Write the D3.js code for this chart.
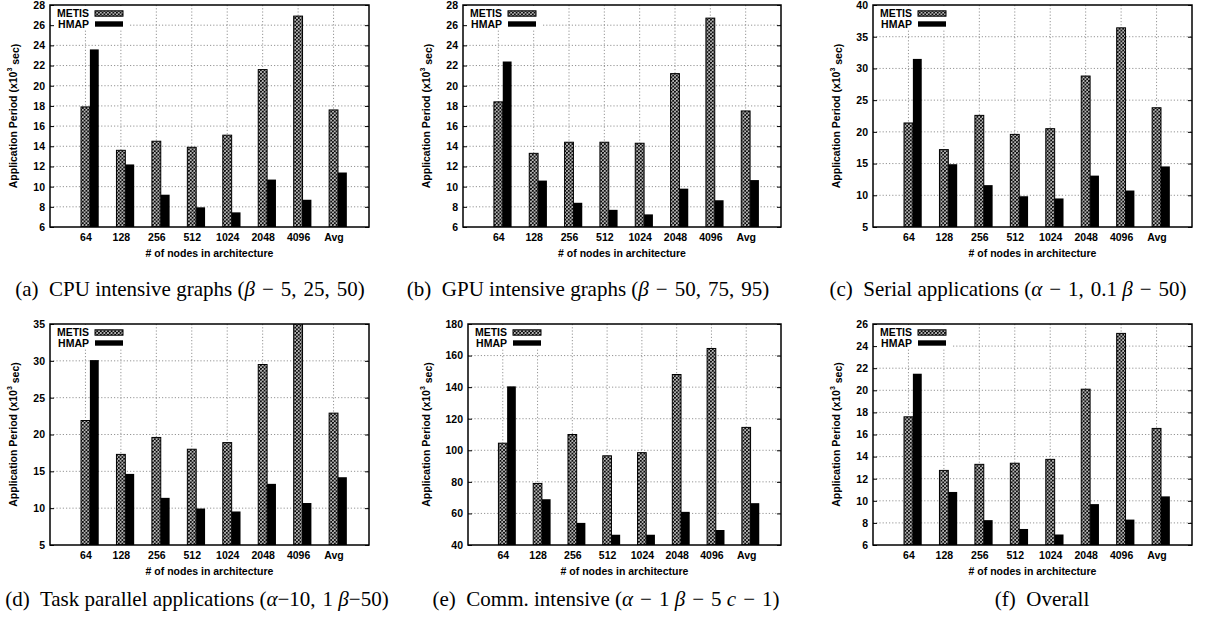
<!DOCTYPE html>
<html>
<head>
<meta charset="utf-8">
<script src="https://cdn.jsdelivr.net/npm/d3@7"></script>
<style>
  body { margin: 0; background: #fff; }
  svg { display: block; }
  .lab { font-family: "Liberation Sans", Arial, Helvetica, sans-serif; font-weight: bold; font-size: 10.5px; fill: #000; }
  .cap { font-family: "Liberation Serif", "Times New Roman", serif; font-size: 21px; fill: #000; }
</style>
</head>
<body>
<script>
// categorias del eje x
const categories = ["64", "128", "256", "512", "1024", "2048", "4096", "Avg"];
const seriesNames = ["METIS", "HMAP"];

// (a) CPU intensive
const cpuMetis = [17.9, 13.6, 14.5, 13.9, 15.1, 21.6, 26.9, 17.6];
const cpuHmap  = [23.6, 12.2, 9.2, 7.95, 7.45, 10.7, 8.7, 11.4];
const cpuTicks = [6, 8, 10, 12, 14, 16, 18, 20, 22, 24, 26, 28];

// (b) GPU intensive
const gpuMetis = [18.4, 13.3, 14.4, 14.4, 14.3, 21.2, 26.7, 17.5];
const gpuHmap  = [22.4, 10.6, 8.4, 7.7, 7.25, 9.8, 8.65, 10.65];
const gpuTicks = [6, 8, 10, 12, 14, 16, 18, 20, 22, 24, 26, 28];

// (c) Serial
const serMetis = [21.4, 17.2, 22.6, 19.6, 20.5, 28.8, 36.4, 23.8];
const serHmap  = [31.5, 14.9, 11.6, 9.85, 9.5, 13.1, 10.75, 14.55];
const serTicks = [5, 10, 15, 20, 25, 30, 35, 40];

// (d) Task parallel
const tpMetis = [21.9, 17.3, 19.6, 18.0, 18.9, 29.5, 36.0, 22.9];
const tpHmap  = [30.1, 14.65, 11.4, 9.95, 9.55, 13.3, 10.7, 14.2];
const tpTicks = [5, 10, 15, 20, 25, 30, 35];

// (e) Comm. intensive
const comMetis = [104.5, 79, 110, 96.5, 98.5, 148, 164.5, 114.5];
const comHmap  = [140.5, 69, 54, 46.5, 46.5, 61, 49.5, 66.5];
const comTicks = [40, 60, 80, 100, 120, 140, 160, 180];

// (f) Overall
const allMetis = [17.6, 12.75, 13.3, 13.4, 13.75, 20.1, 25.15, 16.55];
const allHmap  = [21.5, 10.8, 8.25, 7.45, 6.95, 9.7, 8.3, 10.4];
const allTicks = [6, 8, 10, 12, 14, 16, 18, 20, 22, 24, 26];

// captions: [texto, cursiva]  (espacios de la parte matematica)
const S = "\u2004";
const captions = [
  [["(a)  CPU intensive graphs (", false], ["β", true], [S + "−" + S + "5," + S + "25," + S + "50)", false]],
  [["(b)  GPU intensive graphs (", false], ["β", true], [S + "−" + S + "50," + S + "75," + S + "95)", false]],
  [["(c)  Serial applications (", false], ["α", true], [S + "−" + S + "1," + S + "0.1 ", false], ["β", true], [S + "−" + S + "50)", false]],
  [["(d)  Task parallel applications (", false], ["α", true], ["−10," + S + "1 ", false], ["β", true], ["−50)", false]],
  [["(e)  Comm. intensive (", false], ["α", true], [S + "−" + S + "1 ", false], ["β", true], [S + "−" + S + "5 ", false], ["c", true], [S + "−" + S + "1)", false]],
  [["(f)  Overall", false]]
];

const W = 1216, H = 619;

const svg = d3.select("body").append("svg")
  .attr("width", W)
  .attr("height", H);

// patron cuadriculado para METIS
const defs = svg.append("defs");
const P = 3.6;
const pat = defs.append("pattern")
  .attr("id", "hatch")
  .attr("patternUnits", "userSpaceOnUse")
  .attr("width", P)
  .attr("height", P);
pat.append("rect").attr("width", P).attr("height", P).attr("fill", "#fff");
pat.append("path")
  .attr("d", `M0,0 L${P},${P} M${P},0 L0,${P} M-1,${P - 1} L1,${P + 1} M${P - 1},-1 L${P + 1},1 M${P - 1},${P + 1} L${P + 1},${P - 1} M-1,1 L1,-1`)
  .attr("stroke", "#000")
  .attr("stroke-width", 1);

// posiciones de cada panel
const layout = [
  { left: 50,  right: 369,  top: 5,   bottom: 227, capX: 190,  capY: 296 },
  { left: 463, right: 781,  top: 5,   bottom: 227, capX: 588,  capY: 296 },
  { left: 873, right: 1192, top: 5,   bottom: 227, capX: 1008, capY: 296 },
  { left: 50,  right: 369,  top: 324, bottom: 545, capX: 197,  capY: 606 },
  { left: 468, right: 781,  top: 324, bottom: 545, capX: 606,  capY: 606 },
  { left: 873, right: 1192, top: 324, bottom: 545, capX: 1042, capY: 606 }
];

const panels = [
  { metis: cpuMetis, hmap: cpuHmap, ticks: cpuTicks },
  { metis: gpuMetis, hmap: gpuHmap, ticks: gpuTicks },
  { metis: serMetis, hmap: serHmap, ticks: serTicks },
  { metis: tpMetis,  hmap: tpHmap,  ticks: tpTicks },
  { metis: comMetis, hmap: comHmap, ticks: comTicks },
  { metis: allMetis, hmap: allHmap, ticks: allTicks }
];

panels.forEach((p, k) => {
  const L = layout[k];
  const g = svg.append("g");

  const x = d3.scaleLinear().domain([-1, 8]).range([L.left, L.right]);
  const y = d3.scaleLinear()
    .domain([p.ticks[0], p.ticks[p.ticks.length - 1]])
    .range([L.bottom, L.top]);

  const clipId = "clip" + k;
  defs.append("clipPath").attr("id", clipId)
    .append("rect")
    .attr("x", L.left).attr("y", L.top)
    .attr("width", L.right - L.left).attr("height", L.bottom - L.top);

  // rejilla
  const grid = g.append("g")
    .attr("stroke", "#7a7a7a")
    .attr("stroke-width", 0.8)
    .attr("stroke-dasharray", "1.2,2");
  grid.selectAll(".hg")
    .data(p.ticks.slice(1, -1))
    .enter().append("line")
    .attr("x1", L.left).attr("x2", L.right)
    .attr("y1", d => y(d)).attr("y2", d => y(d));
  grid.selectAll(".vg")
    .data(d3.range(categories.length))
    .enter().append("line")
    .attr("x1", d => x(d)).attr("x2", d => x(d))
    .attr("y1", L.top).attr("y2", L.bottom);

  // barras
  const bw = x(0.25) - x(0);
  const bars = g.append("g").attr("clip-path", `url(#${clipId})`);
  bars.selectAll(".metis")
    .data(p.metis)
    .enter().append("rect")
    .attr("x", (d, i) => x(i - 0.125))
    .attr("y", d => y(d))
    .attr("width", bw)
    .attr("height", d => L.bottom - y(d))
    .attr("fill", "url(#hatch)")
    .attr("stroke", "#000")
    .attr("stroke-width", 1);
  bars.selectAll(".hmap")
    .data(p.hmap)
    .enter().append("rect")
    .attr("x", (d, i) => x(i + 0.125))
    .attr("y", d => y(d))
    .attr("width", bw)
    .attr("height", d => L.bottom - y(d))
    .attr("fill", "#000");

  // leyenda
  const lg = g.append("g");
  lg.append("rect")
    .attr("x", L.left + 1).attr("y", L.top + 1)
    .attr("width", 77).attr("height", 24)
    .attr("fill", "#fff");
  seriesNames.forEach((name, j) => {
    const cy = L.top + 8.5 + j * 10.5;
    lg.append("text")
      .attr("class", "lab")
      .attr("x", L.left + 39)
      .attr("y", cy)
      .attr("dy", "0.36em")
      .attr("text-anchor", "end")
      .text(name);
    lg.append("rect")
      .attr("x", L.left + 45)
      .attr("y", cy - 2.7)
      .attr("width", 28)
      .attr("height", 5.4)
      .attr("fill", j === 0 ? "url(#hatch)" : "#000")
      .attr("stroke", "#000")
      .attr("stroke-width", j === 0 ? 1 : 0);
  });

  // ejes
  const yAxis = g.append("g")
    .attr("transform", `translate(${L.left},0)`)
    .call(d3.axisLeft(y).tickValues(p.ticks).tickSize(-4).tickPadding(5));
  yAxis.select(".domain").remove();
  yAxis.selectAll("text").attr("class", "lab").attr("font-size", null).attr("font-family", null);
  yAxis.selectAll("line").attr("stroke", "#000");

  const yAxisR = g.append("g")
    .attr("transform", `translate(${L.right},0)`)
    .call(d3.axisRight(y).tickValues(p.ticks).tickSize(-4).tickFormat(""));
  yAxisR.select(".domain").remove();

  const xAxis = g.append("g")
    .attr("transform", `translate(0,${L.bottom})`)
    .call(d3.axisBottom(x).tickValues(d3.range(categories.length))
      .tickFormat(i => categories[i]).tickSize(0).tickPadding(7));
  xAxis.select(".domain").remove();
  xAxis.selectAll("text").attr("class", "lab").attr("font-size", null).attr("font-family", null);

  // marco
  g.append("rect")
    .attr("x", L.left).attr("y", L.top)
    .attr("width", L.right - L.left).attr("height", L.bottom - L.top)
    .attr("fill", "none")
    .attr("stroke", "#000")
    .attr("stroke-width", 1.5);

  // titulos de ejes
  g.append("text")
    .attr("class", "lab")
    .attr("x", (L.left + L.right) / 2)
    .attr("y", L.bottom + 26)
    .attr("dy", "0.36em")
    .attr("text-anchor", "middle")
    .text("# of nodes in architecture");

  const yCenter = (L.top + L.bottom) / 2;
  const yOff = p.ticks[p.ticks.length - 1] >= 100 ? 42 : 37;
  const yt = g.append("text")
    .attr("class", "lab")
    .attr("transform", `translate(${L.left - yOff},${yCenter}) rotate(-90)`)
    .attr("dy", "0.36em")
    .attr("text-anchor", "middle");
  yt.append("tspan").text("Application Period (x10");
  yt.append("tspan").attr("dy", "-0.7em").attr("font-size", "7px").text("3");
  yt.append("tspan").attr("dy", "0.7em").text(" sec)");

  // pie de figura
  const cap = svg.append("text")
    .attr("class", "cap")
    .attr("x", layout[k].capX)
    .attr("y", layout[k].capY)
    .attr("text-anchor", "middle")
    .attr("xml:space", "preserve");
  captions[k].forEach(([t, it]) => {
    cap.append("tspan")
      .attr("font-style", it ? "italic" : "normal")
      .text(t);
  });
});
</script>
</body>
</html>
